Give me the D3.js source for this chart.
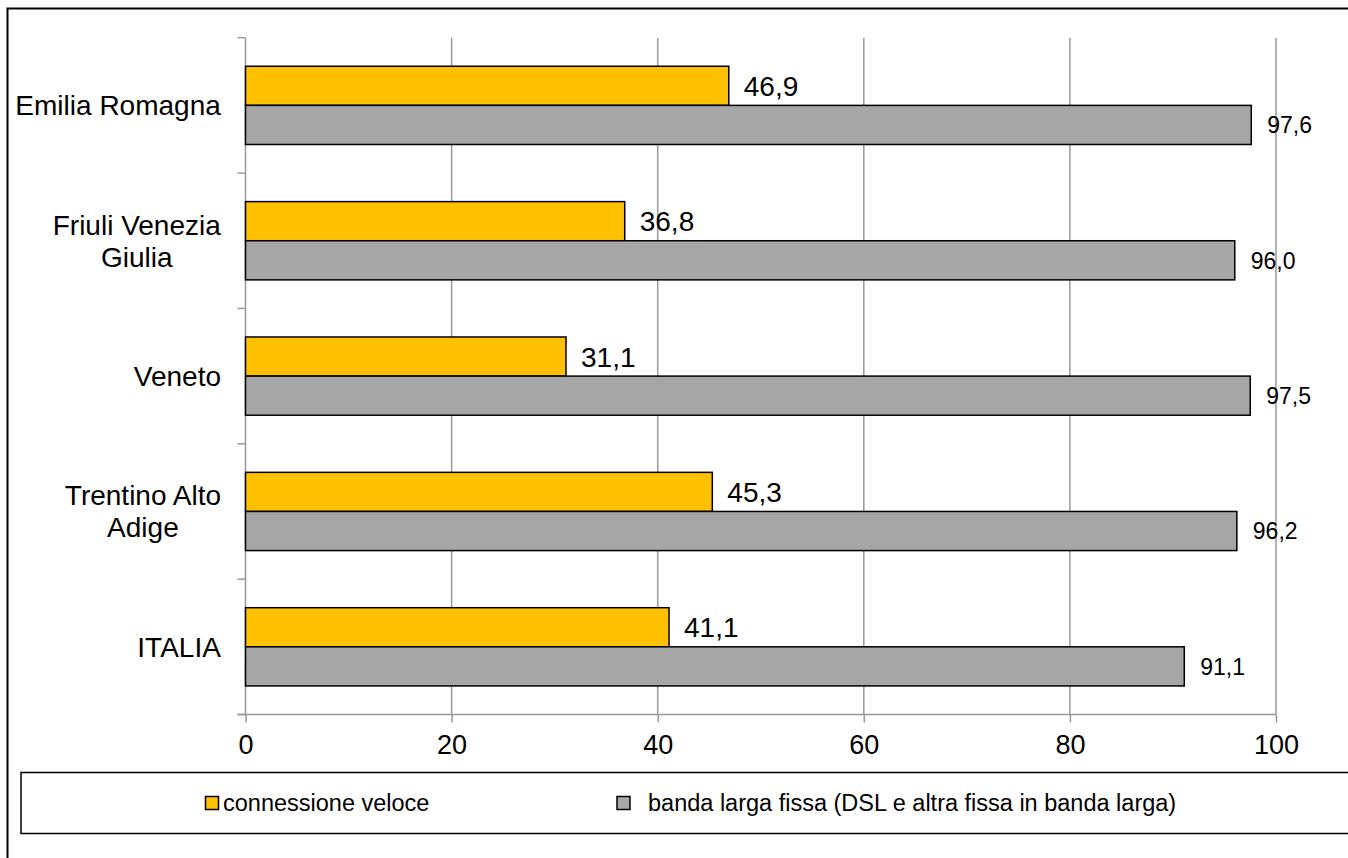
<!DOCTYPE html>
<html>
<head>
<meta charset="utf-8">
<script src="https://cdn.jsdelivr.net/npm/d3@7"></script>
<style>
  html, body { margin: 0; padding: 0; background: #fff; }
  svg { display: block; font-family: "Liberation Sans", Arial, sans-serif; }
</style>
</head>
<body>
<svg id="chart" width="1348" height="858"></svg>
<script>
const categories = ["Emilia Romagna", "Friuli Venezia\nGiulia", "Veneto", "Trentino Alto\nAdige", "ITALIA"];
const seriesNames = ["connessione veloce", "banda larga fissa (DSL e altra fissa in banda larga)"];
const veloce = [46.9, 36.8, 31.1, 45.3, 41.1];
const bandaLarga = [97.6, 96.0, 97.5, 96.2, 91.1];
const xTicks = [0, 20, 40, 60, 80, 100];
const colors = ["#FFC000", "#A6A6A6"];

const svg = d3.select("#chart");
const fmt = v => d3.format(".1f")(v).replace(".", ",");

// outer frame
svg.append("rect").attr("x", 7.5).attr("y", 8.5).attr("width", 1400).attr("height", 900)
  .attr("fill", "none").attr("stroke", "#000").attr("stroke-width", 2);

const x = d3.scaleLinear().domain([0, 100]).range([245.5, 1276]);
const y = d3.scaleBand().domain(categories).range([37.7, 714.5]);
const sub = d3.scaleBand().domain([0, 1]).range([0, y.bandwidth()]).paddingInner(0).paddingOuter(0.73);

// gridlines
svg.append("g").selectAll("line").data(xTicks.filter(d => d > 0)).join("line")
  .attr("x1", d => x(d)).attr("x2", d => x(d))
  .attr("y1", y.range()[0]).attr("y2", y.range()[1])
  .attr("stroke", "#999").attr("stroke-width", 1.5);

// x axis
const xAxis = svg.append("g").attr("transform", `translate(0,${y.range()[1]})`)
  .call(d3.axisBottom(x).tickValues(xTicks).tickSize(8).tickPadding(12).tickFormat(d3.format("d")));
xAxis.select(".domain").remove();
xAxis.append("line").attr("x1", x(0) - 8).attr("x2", x(100)).attr("y1", 0).attr("y2", 0)
  .attr("stroke", "#999").attr("stroke-width", 1.5);
xAxis.selectAll(".tick line").attr("stroke", "#999").attr("stroke-width", 1.5);
xAxis.selectAll(".tick text").attr("font-size", 27).attr("fill", "#000")
  .attr("font-family", "Liberation Sans, Arial, sans-serif");

// y axis
const yAxisG = svg.append("g");
yAxisG.append("line").attr("x1", x(0)).attr("x2", x(0)).attr("y1", y.range()[0]).attr("y2", y.range()[1])
  .attr("stroke", "#999").attr("stroke-width", 1.5);
const bounds = categories.map(c => y(c)).concat([y(categories[categories.length - 1]) + y.step()]);
yAxisG.selectAll("line.tk").data(bounds).join("line").attr("class", "tk")
  .attr("x1", x(0) - 8).attr("x2", x(0)).attr("y1", d => d).attr("y2", d => d)
  .attr("stroke", "#999").attr("stroke-width", 1.5);

// category labels
const labG = svg.append("g");
categories.forEach(c => {
  const lines = c.split("\n");
  const cy = y(c) + y.bandwidth() / 2;
  const lh = 32;
  const t = labG.append("text").attr("font-size", 28).attr("fill", "#000").attr("text-anchor", "middle");
  lines.forEach((ln, i) => {
    t.append("tspan").attr("x", 0).attr("y", cy + (i - (lines.length - 1) / 2) * lh).attr("dy", "0.35em").text(ln);
  });
  const w = t.node().getBBox().width;
  t.attr("transform", `translate(${221 - w / 2},0)`);
});

// bars
const series = [veloce, bandaLarga];
series.forEach((vals, si) => {
  const g = svg.append("g");
  g.selectAll("rect").data(vals).join("rect")
    .attr("x", x(0))
    .attr("y", (d, i) => y(categories[i]) + sub(si))
    .attr("width", d => x(d) - x(0))
    .attr("height", sub.bandwidth())
    .attr("fill", colors[si]).attr("stroke", "#000").attr("stroke-width", 1.5);
  g.selectAll("text").data(vals).join("text")
    .attr("x", d => x(d) + (si === 0 ? 15 : 16))
    .attr("y", (d, i) => y(categories[i]) + sub(si) + sub.bandwidth() / 2)
    .attr("dy", "0.36em")
    .attr("font-size", si === 0 ? 28 : 23).attr("fill", "#000")
    .text(d => fmt(d));
});

// legend
const leg = svg.append("g");
leg.append("rect").attr("x", 21).attr("y", 772.5).attr("width", 1400).attr("height", 61)
  .attr("fill", "none").attr("stroke", "#000").attr("stroke-width", 1.5);
const legItems = [
  { name: seriesNames[0], color: colors[0], sx: 205.5, tx: 223 },
  { name: seriesNames[1], color: colors[1], sx: 617, tx: 648 }
];
legItems.forEach(it => {
  leg.append("rect").attr("x", it.sx).attr("y", 796.5).attr("width", 13).attr("height", 13)
    .attr("fill", it.color).attr("stroke", "#000").attr("stroke-width", 1.5);
  leg.append("text").attr("x", it.tx).attr("y", 803).attr("dy", "0.36em")
    .attr("font-size", 23.5).attr("fill", "#000").text(it.name);
});
</script>
</body>
</html>
